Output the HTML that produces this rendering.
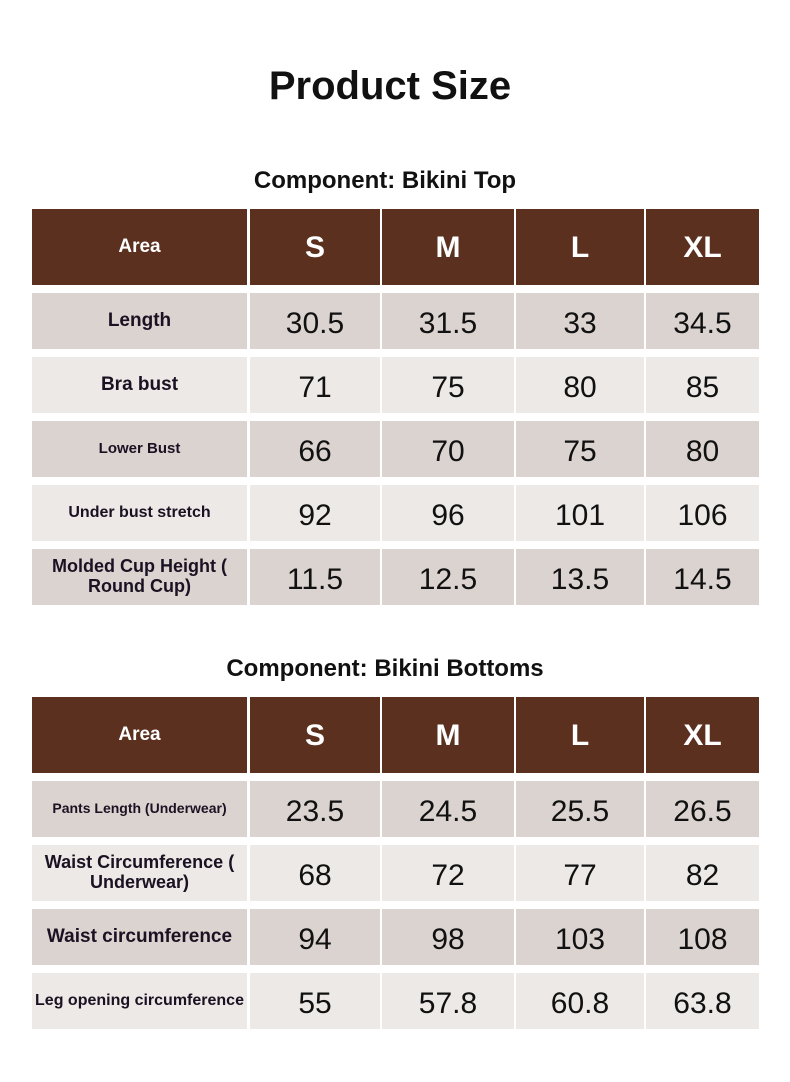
<!DOCTYPE html>
<html><head><meta charset="utf-8"><style>
body{margin:0;width:790px;height:1082px;background:#fff;position:relative;font-family:"Liberation Sans",sans-serif;overflow:hidden}
.t{position:absolute;left:0;width:790px;text-align:center;font-weight:bold;color:#111}
.c{position:absolute;display:flex;align-items:center;justify-content:center;text-align:center;line-height:1.1;white-space:nowrap}
.h{background:#5c301f;color:#fff;font-weight:bold}
.a{background:#dbd3d0;color:#111}
.b{background:#ede9e6;color:#111}
.num{font-size:30px;padding-top:4px;box-sizing:border-box}
.lab{font-weight:bold;color:#1a1222}
</style></head><body>
<div class="t" style="top:64px;font-size:40px;left:-5px">Product Size</div>
<div class="t" style="top:167px;font-size:24px;left:-10px">Component: Bikini Top</div>
<div class="t" style="top:655px;font-size:24px;left:-10px">Component: Bikini Bottoms</div>
<div id="g"></div>
<script>
var cols=[[32,215],[250,130],[382,132],[516,128],[646,113]];
function tbl(y0,rows){
 var h='';var y=y0;
 var hdr=['Area','S','M','L','XL'];
 hdr.forEach(function(t,i){h+='<div class="c h" style="left:'+cols[i][0]+'px;top:'+y+'px;width:'+cols[i][1]+'px;height:76px;font-size:'+(i?30:19)+'px">'+t+'</div>'});
 y+=84;
 rows.forEach(function(r,ri){
  var cls=ri%2?'b':'a';
  r.forEach(function(t,i){
   var fs=i?'':'font-size:'+(r.fs||19)+'px;';
   h+='<div class="c '+cls+' '+(i?'num':'lab')+'" style="left:'+cols[i][0]+'px;top:'+y+'px;width:'+cols[i][1]+'px;height:56px;'+fs+'">'+t+'</div>'});
  y+=64;});
 return h;}
var topRows=[["Length","30.5","31.5","33","34.5"],["Bra bust","71","75","80","85"],["Lower Bust","66","70","75","80"],["Under bust stretch","92","96","101","106"],["Molded Cup Height (<br>Round Cup)","11.5","12.5","13.5","14.5"]];
topRows[2].fs=15;topRows[3].fs=16;topRows[4].fs=18;
var botRows=[["Pants Length (Underwear)","23.5","24.5","25.5","26.5"],["Waist Circumference (<br>Underwear)","68","72","77","82"],["Waist circumference","94","98","103","108"],["Leg opening circumference","55","57.8","60.8","63.8"]];
botRows[0].fs=14;botRows[1].fs=18;botRows[3].fs=16;
document.getElementById('g').innerHTML=tbl(209,topRows)+tbl(697,botRows);
</script>
</body></html>
